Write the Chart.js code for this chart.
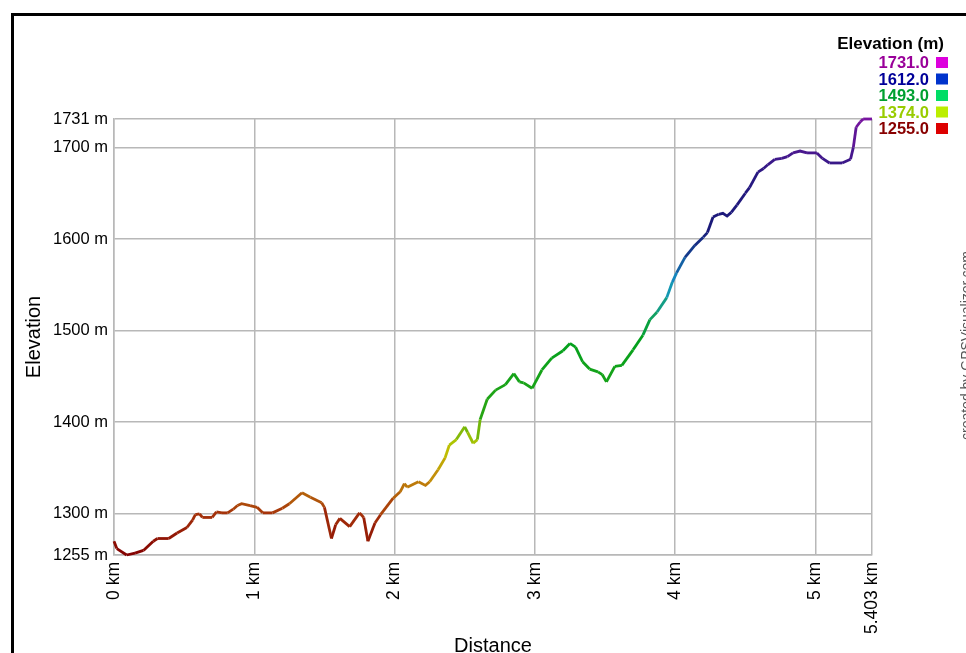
<!DOCTYPE html>
<html>
<head>
<meta charset="utf-8">
<script src="https://cdn.jsdelivr.net/npm/chart.js@4.4.1/dist/chart.umd.min.js"></script>
<style>
  html, body { margin: 0; padding: 0; background: #fff; }
  #wrap { width: 966px; height: 653px; }
</style>
</head>
<body>
<div id="wrap"><canvas id="elevationChart" width="966" height="653"></canvas></div>
<script>
// distance along the track (km) and elevation (m)
const distances = [
    0.00, 0.02, 0.09, 0.15, 0.21, 0.28, 0.31, 0.39, 0.45, 0.52,
    0.56, 0.58, 0.61, 0.63, 0.70, 0.73, 0.77, 0.81, 0.85, 0.88,
    0.91, 0.97, 1.02, 1.06, 1.13, 1.20, 1.25, 1.34, 1.40, 1.48,
    1.50, 1.55, 1.58, 1.61, 1.68, 1.75, 1.78, 1.81, 1.86, 1.90,
    1.99, 2.04, 2.07, 2.09, 2.17, 2.22, 2.25, 2.31, 2.36, 2.39,
    2.44, 2.50, 2.52, 2.56, 2.59, 2.61, 2.66, 2.72, 2.79, 2.85,
    2.89, 2.92, 2.98, 3.05, 3.12, 3.20, 3.25, 3.29, 3.34, 3.39,
    3.45, 3.48, 3.51, 3.57, 3.62, 3.70, 3.77, 3.82, 3.87, 3.94,
    3.98, 4.01, 4.07, 4.14, 4.20, 4.23, 4.27, 4.31, 4.34, 4.37,
    4.40, 4.44, 4.50, 4.53, 4.59, 4.63, 4.66, 4.71, 4.76, 4.80,
    4.84, 4.89, 4.94, 5.01, 5.05, 5.10, 5.19, 5.25, 5.27, 5.29,
    5.32, 5.34, 5.403
];
const elevations = [
    1270, 1262, 1255, 1257, 1260, 1270, 1273, 1273, 1279, 1285,
    1293, 1299, 1300, 1296, 1296, 1302, 1301, 1301, 1305, 1309,
    1311, 1309, 1307, 1301, 1301, 1306, 1311, 1323, 1318, 1312,
    1307, 1273, 1288, 1295, 1286, 1301, 1296, 1270, 1290, 1299,
    1317, 1324, 1333, 1329, 1335, 1331, 1335, 1348, 1361, 1375,
    1381, 1395, 1389, 1377, 1381, 1403, 1425, 1435, 1441, 1453,
    1444, 1443, 1437, 1457, 1470, 1478, 1486, 1482, 1466, 1458,
    1455, 1452, 1444, 1461, 1462, 1479, 1495, 1512, 1520, 1536,
    1553, 1563, 1580, 1593, 1602, 1607, 1624, 1627, 1628, 1625,
    1629, 1637, 1650, 1656, 1673, 1677, 1681, 1687, 1688, 1690,
    1694, 1696, 1694, 1694, 1688, 1683, 1683, 1687, 1700, 1722,
    1728, 1731, 1731
];

const xTicks = [0, 1, 2, 3, 4, 5, 5.403];
const yTicks = [1255, 1300, 1400, 1500, 1600, 1700, 1731];

const legendValues = ['1731.0', '1612.0', '1493.0', '1374.0', '1255.0'];
const legendTextColors = ['#990099', '#000099', '#00a030', '#99cc00', '#880000'];
const legendBoxColors = ['#dd00dd', '#0033cc', '#00dd66', '#bbee00', '#dd0000'];

// colour ramp used for the line, by elevation
const rampStops = [
    [1255, [130, 0, 0]],
    [1300, [165, 50, 10]],
    [1340, [195, 140, 10]],
    [1374, [190, 200, 0]],
    [1410, [40, 165, 20]],
    [1493, [0, 160, 30]],
    [1520, [20, 160, 110]],
    [1552, [20, 150, 200]],
    [1585, [20, 60, 140]],
    [1612, [25, 25, 120]],
    [1670, [40, 25, 130]],
    [1731, [120, 20, 160]]
];

function rampColor(v) {
    if (v <= rampStops[0][0]) return 'rgb(' + rampStops[0][1].join(',') + ')';
    for (let i = 1; i < rampStops.length; i++) {
        const [v1, c1] = rampStops[i];
        const [v0, c0] = rampStops[i - 1];
        if (v <= v1) {
            const t = (v - v0) / (v1 - v0);
            const c = c0.map((a, k) => Math.round(a + (c1[k] - a) * t));
            return 'rgb(' + c.join(',') + ')';
        }
    }
    return 'rgb(' + rampStops[rampStops.length - 1][1].join(',') + ')';
}

const gridColor = '#b8b8b8';
const yTickFont = { family: 'Arial, "Liberation Sans", sans-serif', size: 16.5 };
const xTickFont = { family: 'Arial, "Liberation Sans", sans-serif', size: 17.5 };
const titleFont = { family: 'Arial, "Liberation Sans", sans-serif', size: 20 };

const decorations = {
    id: 'decorations',
    beforeDraw(chart) {
        const ctx = chart.ctx;
        ctx.save();
        ctx.fillStyle = '#fff';
        ctx.fillRect(0, 0, chart.width, chart.height);
        ctx.strokeStyle = '#000';
        ctx.lineWidth = 3;
        ctx.strokeRect(12.5, 14.5, chart.width + 20, chart.height + 20);
        ctx.restore();
    },
    afterDraw(chart) {
        const ctx = chart.ctx;
        ctx.save();
        // colour scale legend
        ctx.textAlign = 'right';
        ctx.textBaseline = 'alphabetic';
        ctx.fillStyle = '#000';
        ctx.font = 'bold 17px Arial, "Liberation Sans", sans-serif';
        ctx.fillText('Elevation (m)', 944, 49);
        ctx.font = 'bold 16.5px Arial, "Liberation Sans", sans-serif';
        legendValues.forEach((label, i) => {
            const base = 68 + i * 16.5;
            ctx.fillStyle = legendTextColors[i];
            ctx.fillText(label, 929, base);
            ctx.fillStyle = legendBoxColors[i];
            ctx.fillRect(936, base - 11, 12, 11);
        });
        // watermark, partly off the right edge
        ctx.translate(971, 440);
        ctx.rotate(-Math.PI / 2);
        ctx.textAlign = 'left';
        ctx.fillStyle = '#555';
        ctx.font = '14px Arial, "Liberation Sans", sans-serif';
        ctx.fillText('created by GPSVisualizer.com', 0, 0);
        ctx.restore();
    }
};

const ctx = document.getElementById('elevationChart').getContext('2d');
new Chart(ctx, {
    type: 'line',
    data: {
        datasets: [{
            data: distances.map((d, i) => ({ x: d, y: elevations[i] })),
            borderWidth: 2.8,
            pointRadius: 0,
            tension: 0,
            fill: false,
            clip: false,
            segment: {
                borderColor: c => rampColor((c.p0.parsed.y + c.p1.parsed.y) / 2)
            }
        }]
    },
    options: {
        responsive: false,
        animation: false,
        layout: { padding: { left: 0, top: 119, right: 94, bottom: 0 } },
        plugins: {
            legend: { display: false },
            tooltip: { enabled: false }
        },
        scales: {
            x: {
                type: 'linear',
                min: 0,
                max: 5.403,
                afterBuildTicks: s => { s.ticks = xTicks.map(v => ({ value: v })); },
                afterFit: s => { s.height = 98; },
                ticks: {
                    autoSkip: false,
                    minRotation: 90,
                    maxRotation: 90,
                    padding: 7,
                    color: '#000',
                    font: xTickFont,
                    callback: v => v + ' km'
                },
                grid: { color: gridColor, lineWidth: 1.5, drawTicks: false },
                border: { color: gridColor, width: 1.5 },
                title: {
                    display: true,
                    text: 'Distance',
                    color: '#000',
                    font: titleFont,
                    padding: { top: 0, bottom: -5 }
                }
            },
            y: {
                type: 'linear',
                min: 1255,
                max: 1731,
                afterBuildTicks: s => { s.ticks = yTicks.map(v => ({ value: v })); },
                afterFit: s => { s.width = 114; },
                ticks: {
                    autoSkip: false,
                    padding: 6,
                    color: '#000',
                    font: yTickFont,
                    callback: v => v + ' m'
                },
                grid: { color: gridColor, lineWidth: 1.5, drawTicks: false },
                border: { color: gridColor, width: 1.5 },
                title: {
                    display: true,
                    text: 'Elevation',
                    color: '#000',
                    font: titleFont,
                    padding: { top: 22, bottom: 0 }
                }
            }
        }
    },
    plugins: [decorations]
});
</script>
</body>
</html>
